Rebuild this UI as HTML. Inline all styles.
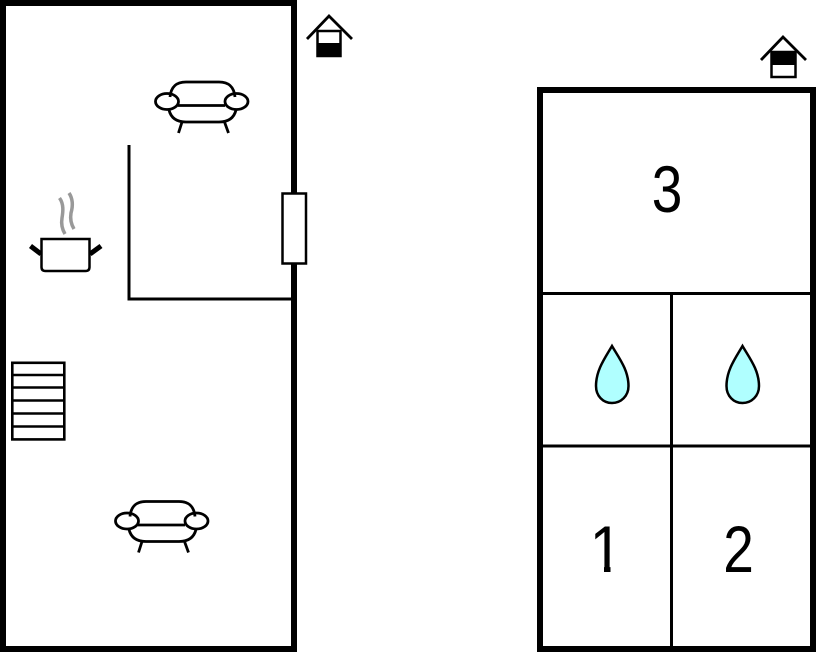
<!DOCTYPE html>
<html>
<head>
<meta charset="utf-8">
<style>
html,body{margin:0;padding:0;background:#fff;width:816px;height:652px;overflow:hidden}
svg{display:block}
text{font-family:"Liberation Sans",sans-serif;font-size:64px;fill:#000;text-anchor:middle}
</style>
</head>
<body>
<svg width="816" height="652" viewBox="0 0 816 652" xmlns="http://www.w3.org/2000/svg">
<!-- left plan -->
<rect x="3" y="3" width="291" height="646" fill="#fff" stroke="#000" stroke-width="6"/>
<path d="M129 145V299H292" fill="none" stroke="#000" stroke-width="3"/>
<rect x="282.500" y="193.500" width="23.500" height="70" fill="#fff" stroke="#000" stroke-width="2.500"/>
<!-- sofa top -->
<g fill="none" stroke="#000" stroke-width="2.800">
<path d="M170 97C171 87 176 82 186 82H219C229 82 234 87 235 97"/>
<path d="M178 105.500H225"/>
<path d="M169 110C171 118 177 122 186 122H219C228 122 234 118 236 110"/>
<ellipse cx="167" cy="101.500" rx="11.500" ry="8"/>
<ellipse cx="236.500" cy="101.500" rx="11.500" ry="8"/>
<path d="M182 122L178.500 133M224.500 122L228.500 133"/>
</g>
<!-- sofa bottom -->
<g fill="none" stroke="#000" stroke-width="2.800" transform="translate(-40 419.500)">
<path d="M170 97C171 87 176 82 186 82H219C229 82 234 87 235 97"/>
<path d="M178 105.500H225"/>
<path d="M169 110C171 118 177 122 186 122H219C228 122 234 118 236 110"/>
<ellipse cx="167" cy="101.500" rx="11.500" ry="8"/>
<ellipse cx="236.500" cy="101.500" rx="11.500" ry="8"/>
<path d="M182 122L178.500 133M224.500 122L228.500 133"/>
</g>
<!-- pot -->
<path d="M41.500 239H89.500V267Q89.500 271 85.500 271H45.500Q41.500 271 41.500 267Z" fill="#fff" stroke="#000" stroke-width="2.500"/>
<path d="M30.500 246L41 254M101 246L90 254" stroke="#000" stroke-width="5" fill="none"/>
<path d="M59.500 198C64 204 63 212 62 218C61 224 62 229 65 234M69 193C73 199 73 206 71 213C70 219 71 224 74 229" fill="none" stroke="#999" stroke-width="3.500"/>
<!-- stairs -->
<g fill="none" stroke="#000" stroke-width="2.600">
<rect x="12.300" y="362.800" width="52" height="76.600"/>
<path d="M12 375H64.500M12 387.500H64.500M12 400.500H64.500M12 413.500H64.500M12 426.500H64.500"/>
</g>
<!-- house 1 -->
<path d="M307 39L329 16L352 39" fill="none" stroke="#000" stroke-width="2.800"/>
<rect x="317.500" y="31" width="23" height="25" fill="#fff" stroke="#000" stroke-width="2.500"/>
<rect x="317" y="43" width="24.500" height="13.500" fill="#000"/>
<!-- right plan -->
<rect x="540" y="90" width="273" height="559" fill="#fff" stroke="#000" stroke-width="6"/>
<path d="M540 293.500H813M540 446H813M671.500 293.500V647" fill="none" stroke="#000" stroke-width="3"/>
<!-- house 2 -->
<path d="M761 60L783 37L806 60" fill="none" stroke="#000" stroke-width="2.800"/>
<rect x="771.500" y="52" width="24" height="25" fill="#fff" stroke="#000" stroke-width="2.500"/>
<rect x="771" y="52" width="25" height="13" fill="#000"/>
<!-- drops -->
<path d="M612 346C605 358 596 370 596 386C596 396 603 403 612 403C621 403 628.500 396 628.500 386C628.500 370 619 358 612 346Z" fill="#b0ffff" stroke="#000" stroke-width="2.500"/>
<path d="M742.500 346C735.500 358 726.500 370 726.500 386C726.500 396 733.500 403 742.500 403C751.500 403 759 396 759 386C759 370 749.500 358 742.500 346Z" fill="#b0ffff" stroke="#000" stroke-width="2.500"/>
<text transform="translate(667 212) scale(.86 1.03)">3</text>
<text transform="translate(606 572) scale(.92 1.03)">1</text>
<rect x="588" y="565.500" width="16" height="9" fill="#fff"/>
<rect x="610.500" y="565.500" width="14" height="9" fill="#fff"/>
<text transform="translate(738.500 572) scale(.86 1.03)">2</text>
</svg>
</body>
</html>
